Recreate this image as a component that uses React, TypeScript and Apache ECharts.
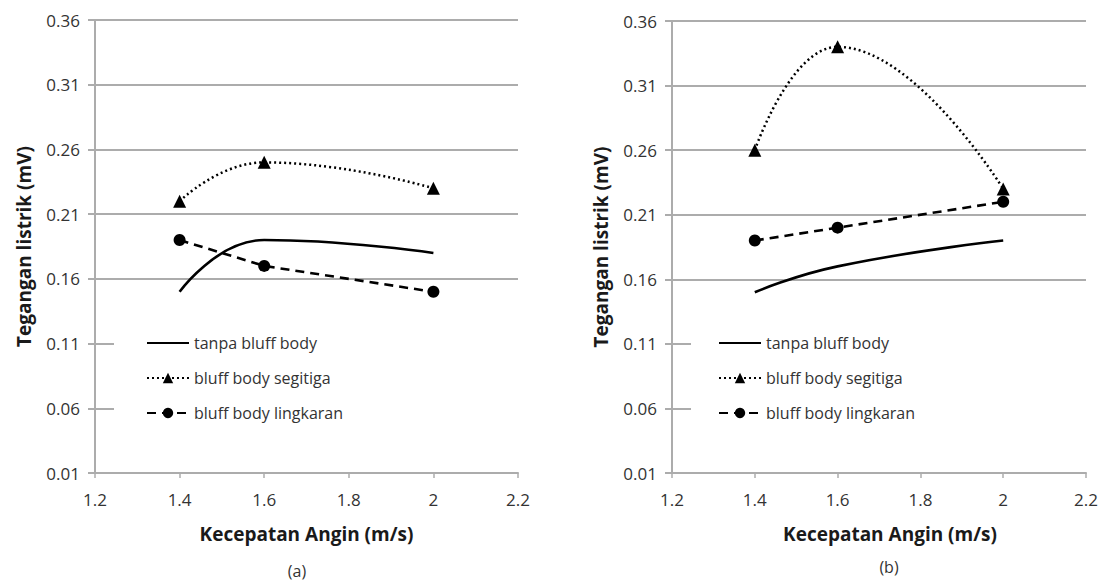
import { useEffect, useRef } from "react";
import * as echarts from "echarts";

// ---- data ----
const xTicks = [1.2, 1.4, 1.6, 1.8, 2.0, 2.2];
const yTicks = [0.01, 0.06, 0.11, 0.16, 0.21, 0.26, 0.31, 0.36];
const windSpeed = [1.4, 1.6, 2.0];
const seriesNames = ["tanpa bluff body", "bluff body segitiga", "bluff body lingkaran"];

// chart (a)
const aTanpa = [0.15, 0.19, 0.18];
const aSegitiga = [0.22, 0.25, 0.23];
const aLingkaran = [0.19, 0.17, 0.15];
// chart (b)
const bTanpa = [0.15, 0.17, 0.19];
const bSegitiga = [0.26, 0.34, 0.23];
const bLingkaran = [0.19, 0.2, 0.22];

const xTitle = "Kecepatan Angin (m/s)";
const yTitle = "Tegangan listrik (mV)";
const captions = ["(a)", "(b)"];

const FONT = "'Open Sans', 'Noto Sans', sans-serif";
const GRID_COLOR = "#acacac";
const LABEL_COLOR = "#333";
const TITLE_COLOR = "#1a1a1a";

const toPairs = (ys: number[]) => windSpeed.map((x, i) => [x, ys[i]]);

function makeAxes(idx: number, xNamePad: number) {
  const xAxis = {
    type: "value",
    gridIndex: idx,
    min: 1.2,
    max: 2.2,
    axisLine: { show: true, lineStyle: { color: GRID_COLOR, width: 2 } },
    axisTick: { show: true, customValues: xTicks, length: 5, lineStyle: { color: GRID_COLOR, width: 1.5 } },
    axisLabel: {
      customValues: xTicks,
      margin: 18,
      color: LABEL_COLOR,
      fontSize: 17,
      fontFamily: FONT,
      formatter: (v: number) => String(Number(v.toFixed(1))),
    },
    splitLine: { show: false },
    name: xTitle,
    nameLocation: "middle",
    nameGap: 51,
    nameTextStyle: {
      fontSize: 19,
      fontWeight: "bold",
      color: TITLE_COLOR,
      fontFamily: FONT,
      padding: [0, 0, 0, xNamePad],
    },
  };
  const yAxis = {
    type: "value",
    gridIndex: idx,
    min: 0.01,
    max: 0.36,
    axisLine: { show: true, lineStyle: { color: GRID_COLOR, width: 2 } },
    axisTick: { show: true, customValues: yTicks, length: 7, lineStyle: { color: GRID_COLOR, width: 2 } },
    axisLabel: {
      customValues: yTicks,
      margin: 15,
      color: LABEL_COLOR,
      fontSize: 17,
      fontFamily: FONT,
      formatter: (v: number) => v.toFixed(2),
    },
    splitLine: { show: true, lineStyle: { color: GRID_COLOR, width: 2 } },
    name: yTitle,
    nameLocation: "middle",
    nameRotate: 90,
    nameGap: 62,
    nameTextStyle: { fontSize: 19, fontWeight: "bold", color: TITLE_COLOR, fontFamily: FONT },
  };
  return { xAxis, yAxis };
}

function makeSeries(idx: number, tanpa: number[], segitiga: number[], lingkaran: number[]) {
  return [
    {
      name: seriesNames[0],
      type: "line",
      xAxisIndex: idx,
      yAxisIndex: idx,
      data: toPairs(tanpa),
      smooth: 0.5,
      symbol: "none",
      lineStyle: { color: "#000", width: 2.6 },
      itemStyle: { color: "#000" },
    },
    {
      name: seriesNames[1],
      type: "line",
      xAxisIndex: idx,
      yAxisIndex: idx,
      data: toPairs(segitiga),
      smooth: 0.5,
      symbol: "triangle",
      symbolSize: 13,
      lineStyle: { color: "#000", width: 2.5, type: [2, 3] },
      itemStyle: { color: "#000" },
    },
    {
      name: seriesNames[2],
      type: "line",
      xAxisIndex: idx,
      yAxisIndex: idx,
      data: toPairs(lingkaran),
      smooth: false,
      symbol: "circle",
      symbolSize: 12,
      lineStyle: { color: "#000", width: 2.6, type: [9, 6] },
      itemStyle: { color: "#000" },
    },
  ];
}

function makeLegend(left: number, padLeft: number) {
  return {
    left,
    top: 303,
    orient: "vertical",
    backgroundColor: "#fff",
    padding: [32, 200, 24, padLeft],
    itemWidth: 42,
    itemHeight: 13,
    itemGap: 19,
    selectedMode: false,
    textStyle: { fontSize: 16, color: LABEL_COLOR, fontFamily: FONT },
    data: [
      { name: seriesNames[0], itemStyle: { opacity: 0 } },
      { name: seriesNames[1] },
      { name: seriesNames[2] },
    ],
  };
}

export default function App() {
  const ref = useRef<HTMLDivElement>(null);

  useEffect(() => {
    if (!ref.current) return;
    const chart = echarts.init(ref.current, null, { renderer: "svg" });
    const a = makeAxes(0, 0);
    const b = makeAxes(1, 22);
    chart.setOption({
      animation: false,
      backgroundColor: "#fff",
      grid: [
        { left: 95, top: 20, width: 423, height: 453 },
        { left: 672, top: 21, width: 414, height: 452 },
      ],
      xAxis: [a.xAxis, b.xAxis],
      yAxis: [a.yAxis, b.yAxis],
      legend: [makeLegend(114, 32), makeLegend(691, 27)],
      series: [
        ...makeSeries(0, aTanpa, aSegitiga, aLingkaran),
        ...makeSeries(1, bTanpa, bSegitiga, bLingkaran),
      ],
      graphic: [
        {
          type: "text",
          x: 297,
          y: 571,
          style: {
            text: captions[0],
            align: "center",
            verticalAlign: "middle",
            font: `16px ${FONT}`,
            fill: "#333",
          },
        },
        {
          type: "text",
          x: 889,
          y: 567,
          style: {
            text: captions[1],
            align: "center",
            verticalAlign: "middle",
            font: `16px ${FONT}`,
            fill: "#333",
          },
        },
      ],
    });
    return () => chart.dispose();
  }, []);

  return (
    <div
      ref={ref}
      style={{ position: "absolute", left: 0, top: 0, width: 1113, height: 581 }}
    />
  );
}
